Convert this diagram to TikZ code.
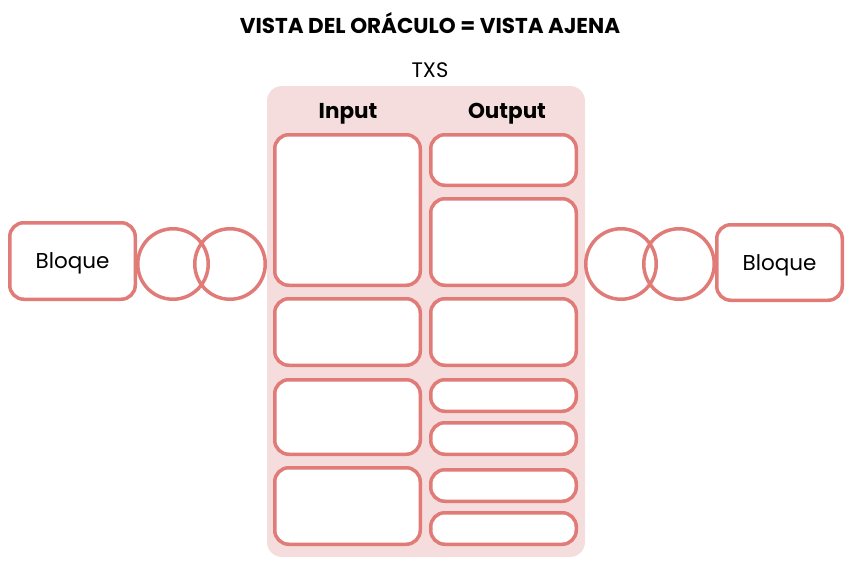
\documentclass[tikz,border=0pt]{standalone}
\usepackage{fontspec}
\setmainfont{Poppins}
\usepackage{tikz}
\usetikzlibrary{shapes,positioning}
\definecolor{salmon}{RGB}{224,123,120}
\definecolor{pinkfill}{RGB}{246,221,221}
\begin{document}
\begin{tikzpicture}[x=1pt,y=-1pt,
		cell/.style={draw=salmon,line width=3.5pt,fill=white,rounded corners=14pt,minimum width=145.5pt,inner sep=0pt},
		ring/.style={draw=salmon,line width=3.5pt,circle,minimum size=70.5pt,inner sep=0pt},
		bloque/.style={cell,minimum width=125.5pt,text depth=0pt,font=\fontsize{21.5}{26}\selectfont},
		head/.style={font=\fontsize{21.5}{26}\selectfont\bfseries,anchor=base}]
					\useasboundingbox (0,0) rectangle (855,571);
					\node[head] (title) at (430,33) {VISTA DEL ORÁCULO = VISTA AJENA};
					\node[font=\fontsize{21}{25}\selectfont,anchor=base] (txs) at (430,77) {TXS};
					\fill[pinkfill,rounded corners=15pt] (267,86) rectangle (585,557);
					\node[head] (input) at (348,118) {Input};
					\node[head] (output) at (507,118) {Output};
					\node[cell,minimum height=150.5pt] (in1) at (347.5,210) {};
					\node[cell,minimum height=66.5pt] (in2) at (347.5,332) {};
					\node[cell,minimum height=74.5pt] (in3) at (347.5,417) {};
					\node[cell,minimum height=76.5pt] (in4) at (347.5,506) {};
					\node[cell,minimum height=50.5pt] (out1) at (503.5,160) {};
					\node[cell,minimum height=86.5pt] (out2) at (503.5,242) {};
					\node[cell,minimum height=66.5pt] (out3) at (503.5,332) {};
					\node[cell,minimum height=31.5pt] (out4) at (503.5,395.5) {};
					\node[cell,minimum height=31.5pt] (out5) at (503.5,438.5) {};
					\node[cell,minimum height=31.5pt] (out6) at (503.5,485.5) {};
					\node[cell,minimum height=31.5pt] (out7) at (503.5,528.5) {};
					\node[bloque,minimum height=76.5pt] (left) at (72.5,261) {Bloque};
					\node[ring] (leftA) at (173,264) {};
					\node[ring] (leftB) at (230,264) {};
					\node[ring] (rightA) at (621,264) {};
					\node[ring] (rightB) at (679,264) {};
					\node[bloque,minimum height=75.5pt] (right) at (779.5,262.5) {Bloque};
				\end{tikzpicture}
\end{document}
